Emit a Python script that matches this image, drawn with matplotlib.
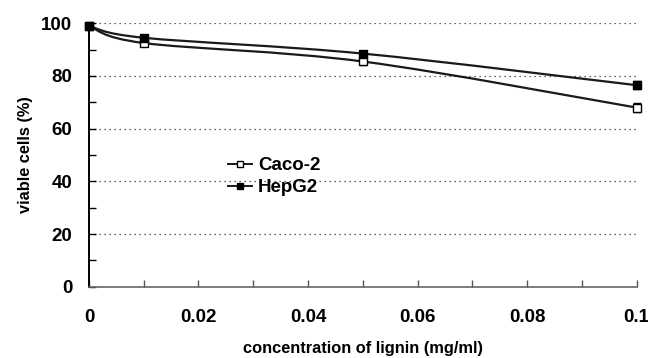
import matplotlib
matplotlib.use("Agg")
import matplotlib.pyplot as plt
from matplotlib.path import Path
from matplotlib.patches import PathPatch
import numpy as np

plt.rcParams['font.family'] = ['Liberation Sans', 'DejaVu Sans']
plt.rcParams['font.weight'] = 'bold'
plt.rcParams['axes.labelweight'] = 'bold'

conc = [0, 0.01, 0.05, 0.1]
caco2 = [99, 92.5, 85.5, 68]
caco2_err = [0.8, 1.0, 1.2, 1.8]
hepg2 = [99, 94.5, 88.5, 76.5]
hepg2_err = [0.8, 1.0, 1.0, 1.5]


def smooth_path(x, y, t=0.5 / 3):
    # excel-like smoothed line as cubic bezier segments
    x = np.asarray(x, float)
    y = np.asarray(y, float)
    verts = [(x[0], y[0])]
    codes = [Path.MOVETO]
    n = len(x)
    for i in range(n - 1):
        p0 = (x[max(i - 1, 0)], y[max(i - 1, 0)])
        p1 = (x[i], y[i])
        p2 = (x[i + 1], y[i + 1])
        p3 = (x[min(i + 2, n - 1)], y[min(i + 2, n - 1)])
        c1 = (p1[0] + (p2[0] - p0[0]) * t, p1[1] + (p2[1] - p0[1]) * t)
        c2 = (p2[0] - (p3[0] - p1[0]) * t, p2[1] - (p3[1] - p1[1]) * t)
        verts += [c1, c2, p2]
        codes += [Path.CURVE4] * 3
    return Path(verts, codes)


fig = plt.figure(figsize=(6.48, 3.58), dpi=100)
ax = fig.add_axes([0.1373, 0.199, 0.845, 0.736])

for yy in [20, 40, 60, 80, 100]:
    ax.axhline(yy, color='#333333', lw=0.9, ls=(0, (1, 3)), zorder=1)

for vals, errs, face, lab in [(caco2, caco2_err, 'white', 'Caco-2'),
                              (hepg2, hepg2_err, 'black', 'HepG2')]:
    ax.add_patch(PathPatch(smooth_path(conc, vals), fc='none', ec='#1a1a1a',
                           lw=1.6, zorder=2, clip_on=False))
    ax.errorbar(conc, vals, yerr=errs, fmt='none', ecolor='black',
                elinewidth=1, capsize=3, zorder=3, clip_on=False)
    ax.plot(conc, vals, ls='none', marker='s', ms=6, mfc=face, mec='black',
            mew=1, zorder=4, clip_on=False)
    ax.plot([], [], color='#1a1a1a', lw=1.4, marker='s', ms=5,
            mfc=face, mec='black', label=lab)

ax.set_xlim(0, 0.1)
ax.set_ylim(0, 100)
ax.set_xticks([0, 0.02, 0.04, 0.06, 0.08, 0.1])
ax.set_xticklabels(['0', '0.02', '0.04', '0.06', '0.08', '0.1'])
ax.set_xticks(np.arange(0.01, 0.1, 0.02), minor=True)
ax.set_yticks([0, 20, 40, 60, 80, 100])
ax.set_yticks([10, 30, 50, 70, 90], minor=True)
ax.tick_params(axis='both', which='both', direction='in', labelsize=13.5)
ax.tick_params(axis='x', which='both', length=5, width=1, color='#555555', pad=16)
ax.tick_params(axis='y', which='both', length=5, width=1, pad=12)

for s in ['top', 'right']:
    ax.spines[s].set_visible(False)
ax.spines['left'].set_linewidth(1.4)
ax.spines['bottom'].set_color('#666666')
ax.spines['bottom'].set_linewidth(1.2)

ax.set_ylabel('viable cells (%)', fontsize=11.8, labelpad=6)
ax.set_xlabel('concentration of lignin (mg/ml)', fontsize=11.8, labelpad=11)

leg = ax.legend(loc='upper left', bbox_to_anchor=(0.24, 0.52), frameon=False,
                fontsize=13.5, handlelength=1.3, handletextpad=0.3,
                labelspacing=0.25, borderaxespad=0)
leg.set_zorder(5)

fig.savefig('out.png', dpi=100)
